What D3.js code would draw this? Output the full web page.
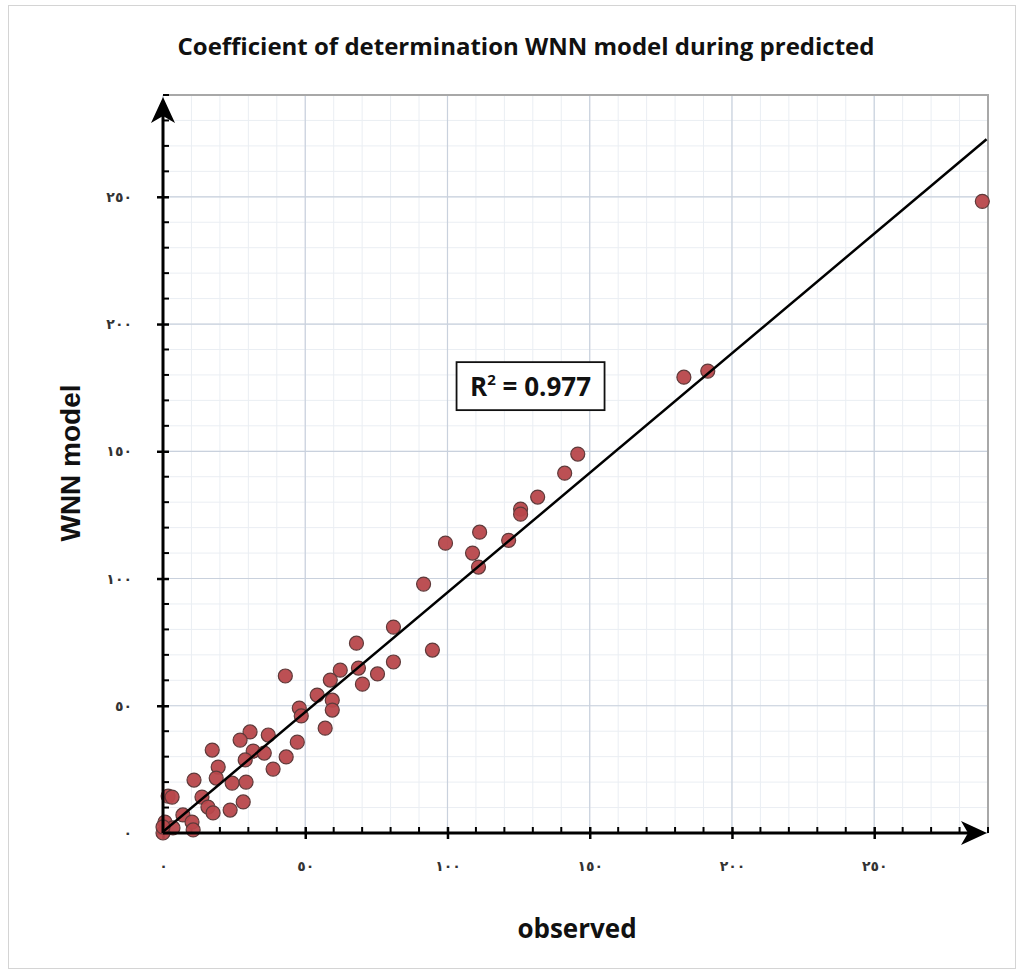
<!DOCTYPE html>
<html>
<head>
<meta charset="utf-8">
<script src="https://d3js.org/d3.v7.min.js"></script>
<style>
  body { margin: 0; background: #fff; }
</style>
</head>
<body>
  <div id="chart"></div>
  <script>
    // observed vs WNN model values
    var observed = [288.0, 191.5, 183.1, 145.8, 141.2, 131.7, 125.7, 125.7, 111.3, 121.5,
      99.3, 108.8, 110.9, 91.6, 81.0, 94.7, 81.0, 68.0, 68.7, 62.3,
      75.4, 58.8, 70.1, 43.0, 54.2, 59.5, 59.5, 47.9, 48.6, 57.0,
      47.2, 30.6, 37.0, 27.1, 31.7, 35.6, 17.3, 43.3, 19.4, 28.9,
      38.7, 10.9, 18.7, 24.3, 29.2, 1.8, 3.2, 28.2, 13.7, 15.8,
      23.6, 17.6, 7.0, 10.2, 0.7, 3.5, 10.6, 0, 0];
    var predicted = [248.2, 181.5, 179.1, 148.9, 141.4, 132.0, 127.3, 125.3, 118.2, 115.0,
      113.9, 110.0, 104.5, 97.8, 80.9, 71.9, 67.2, 74.6, 64.8, 64.0,
      62.5, 60.1, 58.5, 61.7, 54.2, 52.2, 48.3, 49.1, 46.0, 41.2,
      35.7, 39.7, 38.5, 36.5, 32.2, 31.4, 32.6, 29.9, 25.9, 28.7,
      25.1, 20.8, 21.6, 19.6, 20.0, 14.5, 14.1, 12.2, 14.1, 10.2,
      9.0, 7.9, 7.1, 4.3, 4.3, 2.0, 1.2, 0, 2.4];

    var majorTicks = [0, 50, 100, 150, 200, 250];
    var tickLabels = ["٠", "٥٠", "١٠٠", "١٥٠", "٢٠٠", "٢٥٠"];
    var minorTicks = d3.range(0, 291, 10);

    var fitSlope = 0.94, fitIntercept = 0.5;
    var fitRange = [0, 289.5];
    var r2Text = "0.977";

    var W = 1024, H = 974;
    var margin = {top: 95, right: 36, bottom: 141, left: 163};
    var width = W - margin.left - margin.right,
        height = H - margin.top - margin.bottom;

    var svg = d3.select("#chart").append("svg")
      .attr("width", W).attr("height", H);

    // outer frame
    svg.append("rect")
      .attr("x", 8.5).attr("y", 5.5).attr("width", 1007).attr("height", 963)
      .attr("fill", "#fff").attr("stroke", "#d4d4d4");

    var g = svg.append("g")
      .attr("transform", "translate(" + margin.left + "," + margin.top + ")");

    var x = d3.scaleLinear().domain([0, 290]).range([0, width]);
    var y = d3.scaleLinear().domain([0, 290]).range([height, 0]);

    // minor grid
    g.append("g").selectAll("line.mx").data(minorTicks).enter().append("line")
      .attr("x1", d => x(d)).attr("x2", d => x(d))
      .attr("y1", 0).attr("y2", height)
      .attr("stroke", "#eaeef3").attr("stroke-width", 1);
    g.append("g").selectAll("line.my").data(minorTicks).enter().append("line")
      .attr("y1", d => y(d)).attr("y2", d => y(d))
      .attr("x1", 0).attr("x2", width)
      .attr("stroke", "#eaeef3").attr("stroke-width", 1);

    // major grid
    g.append("g").selectAll("line").data(majorTicks).enter().append("line")
      .attr("x1", d => x(d)).attr("x2", d => x(d))
      .attr("y1", 0).attr("y2", height)
      .attr("stroke", "#c9d1dd").attr("stroke-width", 1.2);
    g.append("g").selectAll("line").data(majorTicks).enter().append("line")
      .attr("y1", d => y(d)).attr("y2", d => y(d))
      .attr("x1", 0).attr("x2", width)
      .attr("stroke", "#c9d1dd").attr("stroke-width", 1.2);

    // plot area border (top / right)
    g.append("path")
      .attr("d", "M0,0H" + width + "V" + height)
      .attr("fill", "none").attr("stroke", "#a8a8a8").attr("stroke-width", 2);

    // axes labels through d3 axes
    var xAxis = g.append("g")
      .attr("transform", "translate(0," + height + ")")
      .call(d3.axisBottom(x).tickValues(majorTicks)
        .tickFormat((d, i) => tickLabels[i]).tickSize(6).tickPadding(22));
    var yAxis = g.append("g")
      .call(d3.axisLeft(y).tickValues(majorTicks)
        .tickFormat((d, i) => tickLabels[i]).tickSize(6).tickPadding(25));
    [xAxis, yAxis].forEach(function (a) {
      a.select(".domain").remove();
      a.selectAll(".tick line").attr("stroke", "#000").attr("stroke-width", 2.5);
      a.selectAll(".tick text")
        .attr("font-family", "DejaVu Sans").attr("font-weight", 700).attr("font-size", 14)
        .attr("fill", "#333");
    });
    // majors cross the axis on both sides
    xAxis.selectAll(".tick line").attr("y1", -6);
    yAxis.selectAll(".tick line").attr("x1", 6);

    // minor ticks pointing inside
    g.append("g").selectAll("line").data(minorTicks.filter(d => d % 50 != 0)).enter().append("line")
      .attr("x1", d => x(d)).attr("x2", d => x(d))
      .attr("y1", height).attr("y2", height - 6)
      .attr("stroke", "#000").attr("stroke-width", 2);
    g.append("g").selectAll("line").data(minorTicks.filter(d => d % 50 != 0)).enter().append("line")
      .attr("y1", d => y(d)).attr("y2", d => y(d))
      .attr("x1", 0).attr("x2", 6)
      .attr("stroke", "#000").attr("stroke-width", 2);

    // points
    var pts = observed.map((o, i) => [o, predicted[i]]);
    g.append("g").selectAll("circle").data(pts).enter().append("circle")
      .attr("cx", d => x(d[0])).attr("cy", d => y(d[1])).attr("r", 7)
      .attr("fill", "#b8474b").attr("stroke", "#5e3a3a").attr("stroke-width", 1.2)
      .attr("fill-opacity", 0.95);

    // fitted line
    g.append("line")
      .attr("x1", x(fitRange[0])).attr("y1", y(fitSlope * fitRange[0] + fitIntercept))
      .attr("x2", x(fitRange[1])).attr("y2", y(fitSlope * fitRange[1] + fitIntercept))
      .attr("stroke", "#000").attr("stroke-width", 2.5);

    // axis lines with arrows
    g.append("line").attr("x1", 0).attr("x2", width - 6)
      .attr("y1", height).attr("y2", height)
      .attr("stroke", "#000").attr("stroke-width", 3);
    g.append("line").attr("x1", 0).attr("x2", 0)
      .attr("y1", height).attr("y2", 6)
      .attr("stroke", "#000").attr("stroke-width", 3);
    g.append("path")
      .attr("d", "M" + (width - 1) + "," + height + "l-26,-12l7,12l-7,12z")
      .attr("fill", "#000");
    g.append("path")
      .attr("d", "M0,2l-12,26l12,-7l12,7z")
      .attr("fill", "#000");

    // R2 box
    var box = g.append("g").attr("transform", "translate(" + x(129.2) + "," + y(175.6) + ")");
    box.append("rect").attr("x", -74).attr("y", -24).attr("width", 148).attr("height", 48)
      .attr("fill", "#fff").attr("stroke", "#111").attr("stroke-width", 1.8);
    var t = box.append("text").attr("text-anchor", "middle").attr("y", 10)
      .attr("font-family", "Open Sans").attr("font-weight", 700).attr("font-size", 26)
      .attr("fill", "#111");
    t.append("tspan").text("R");
    t.append("tspan").text("2").attr("font-size", 15).attr("dy", -11);
    t.append("tspan").text(" = " + r2Text).attr("dy", 11);

    // titles
    svg.append("text").attr("x", 526).attr("y", 55).attr("text-anchor", "middle")
      .attr("font-family", "Open Sans").attr("font-weight", 700).attr("font-size", 24)
      .attr("fill", "#111").text("Coefficient of determination WNN model during predicted");
    svg.append("text").attr("x", 577).attr("y", 938).attr("text-anchor", "middle")
      .attr("font-family", "Open Sans").attr("font-weight", 700).attr("font-size", 26)
      .attr("fill", "#111").text("observed");
    svg.append("text").attr("transform", "translate(80,463) rotate(-90)")
      .attr("text-anchor", "middle")
      .attr("font-family", "Liberation Sans").attr("font-weight", 700).attr("font-size", 28)
      .attr("fill", "#111").text("WNN model");
  </script>
</body>
</html>
